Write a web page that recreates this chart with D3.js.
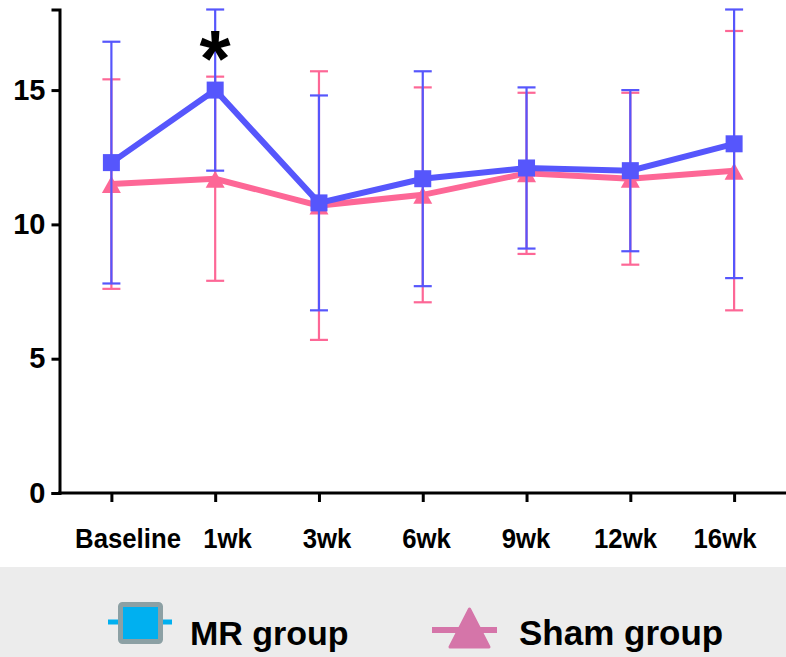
<!DOCTYPE html>
<html>
<head>
<meta charset="utf-8">
<script src="https://cdn.jsdelivr.net/npm/d3@7"></script>
<style>
  html, body { margin: 0; padding: 0; background: #ffffff; }
  svg { display: block; font-family: "Liberation Sans", Arial, sans-serif; }
</style>
</head>
<body>
<svg id="chart" width="786" height="657"></svg>
<script>
// Time points
const categories = ["Baseline", "1wk", "3wk", "6wk", "9wk", "12wk", "16wk"];
// MR group: mean and SD per time point
const mrMean = [12.3, 15.0, 10.8, 11.7, 12.1, 12.0, 13.0];
const mrSD   = [4.5, 3.0, 4.0, 4.0, 3.0, 3.0, 5.0];
// Sham group: mean and SD per time point
const shamMean = [11.5, 11.7, 10.7, 11.1, 11.9, 11.7, 12.0];
const shamSD   = [3.9, 3.8, 5.0, 4.0, 3.0, 3.2, 5.2];
// Y axis ticks
const yTicks = [0, 5, 10, 15];
// Significance mark
const sigMarks = [{ cat: "1wk", text: "*" }];
// Legend entries
const legendLabels = ["MR group", "Sham group"];

const W = 786, H = 657;
const blue = "#5656fc";
const pink = "#fd6796";

const svg = d3.select("#chart");

// Legend band background
svg.append("rect")
  .attr("x", 0).attr("y", 567).attr("width", W).attr("height", H - 567)
  .attr("fill", "#ececec");

const x = d3.scalePoint().domain(categories).range([59.5, 786]).padding(0.5);
const xLab = d3.scalePoint().domain(categories).range([128, 725]);
const y = d3.scaleLinear().domain([0, 18]).range([493, 9.5]);

// Y axis
const yAxis = svg.append("g")
  .attr("transform", "translate(59.5,0)")
  .call(d3.axisLeft(y).tickValues(yTicks).tickSize(8).tickPadding(6).tickFormat(d3.format("d")));
yAxis.select(".domain").attr("stroke", "#000").attr("stroke-width", 3);
yAxis.selectAll(".tick line").attr("stroke", "#000").attr("stroke-width", 3);
yAxis.selectAll(".tick text")
  .attr("fill", "#000").attr("font-size", 29).attr("font-weight", "bold")
  .attr("font-family", "'Liberation Sans', Arial, sans-serif");

// X axis
const xAxis = svg.append("g")
  .attr("transform", "translate(0,493)")
  .call(d3.axisBottom(x).tickSize(9).tickFormat(""));
xAxis.select(".domain").attr("stroke", "#000").attr("stroke-width", 3).attr("d", "M58,0H786");
xAxis.selectAll(".tick line").attr("stroke", "#000").attr("stroke-width", 3);

// X labels
svg.append("g").selectAll("text")
  .data(categories)
  .join("text")
  .attr("transform", d => `translate(${xLab(d)},548) scale(0.92,1)`)
  .attr("text-anchor", "middle")
  .attr("font-size", 28).attr("font-weight", "bold").attr("fill", "#000")
  .text(d => d);

function drawSeries(means, sds, color, marker) {
  const rows = categories.map((c, i) => ({ c, m: means[i], s: sds[i] }));
  const g = svg.append("g");
  // error bars
  const eb = g.append("g").attr("stroke", color).attr("stroke-width", 2.2).attr("fill", "none");
  eb.selectAll("line.v").data(rows).join("line").attr("class", "v")
    .attr("x1", d => x(d.c)).attr("x2", d => x(d.c))
    .attr("y1", d => y(d.m + d.s)).attr("y2", d => y(d.m - d.s));
  eb.selectAll("line.t").data(rows).join("line").attr("class", "t")
    .attr("x1", d => x(d.c) - 9).attr("x2", d => x(d.c) + 9)
    .attr("y1", d => y(d.m + d.s)).attr("y2", d => y(d.m + d.s));
  eb.selectAll("line.b").data(rows).join("line").attr("class", "b")
    .attr("x1", d => x(d.c) - 9).attr("x2", d => x(d.c) + 9)
    .attr("y1", d => y(d.m - d.s)).attr("y2", d => y(d.m - d.s));
  // mean line
  g.append("path").datum(rows)
    .attr("fill", "none").attr("stroke", color).attr("stroke-width", 6)
    .attr("stroke-linejoin", "miter")
    .attr("d", d3.line().x(d => x(d.c)).y(d => y(d.m)));
  // markers
  if (marker === "square") {
    g.selectAll("rect.mk").data(rows).join("rect").attr("class", "mk")
      .attr("x", d => x(d.c) - 8.5).attr("y", d => y(d.m) - 8.5)
      .attr("width", 17).attr("height", 17).attr("fill", color);
  } else {
    g.selectAll("path.mk").data(rows).join("path").attr("class", "mk")
      .attr("transform", d => `translate(${x(d.c)},${y(d.m)})`)
      .attr("d", "M0,-8L9.5,9L-9.5,9Z").attr("fill", color);
  }
}

drawSeries(shamMean, shamSD, pink, "triangle");
drawSeries(mrMean, mrSD, blue, "square");

// Significance asterisk
svg.append("g").selectAll("text")
  .data(sigMarks)
  .join("text")
  .attr("x", d => x(d.cat)).attr("y", 86)
  .attr("text-anchor", "middle")
  .attr("font-size", 80).attr("font-weight", "bold").attr("fill", "#000")
  .text(d => d.text);

// Legend
const lg = svg.append("g");
// MR entry
lg.append("line").attr("x1", 108).attr("x2", 172).attr("y1", 622).attr("y2", 622)
  .attr("stroke", "#00b0f0").attr("stroke-width", 5);
lg.append("rect").attr("x", 120.5).attr("y", 604.5).attr("width", 40).attr("height", 37)
  .attr("rx", 2).attr("fill", "#00b0f0").attr("stroke", "#8ca0a4").attr("stroke-width", 5);
lg.append("text").attr("x", 190).attr("y", 645)
  .attr("font-size", 34).attr("font-weight", "bold").attr("fill", "#000")
  .text(legendLabels[0]);
// Sham entry
lg.append("line").attr("x1", 432).attr("x2", 497).attr("y1", 630).attr("y2", 630)
  .attr("stroke", "#d575a9").attr("stroke-width", 6);
lg.append("path").attr("d", "M469.5,609L489,647L450,647Z")
  .attr("fill", "#d575a9").attr("stroke", "#d575a9").attr("stroke-width", 3).attr("stroke-linejoin", "round");
lg.append("text").attr("x", 519).attr("y", 645)
  .attr("font-size", 35).attr("font-weight", "bold").attr("fill", "#000")
  .text(legendLabels[1]);
</script>
</body>
</html>
